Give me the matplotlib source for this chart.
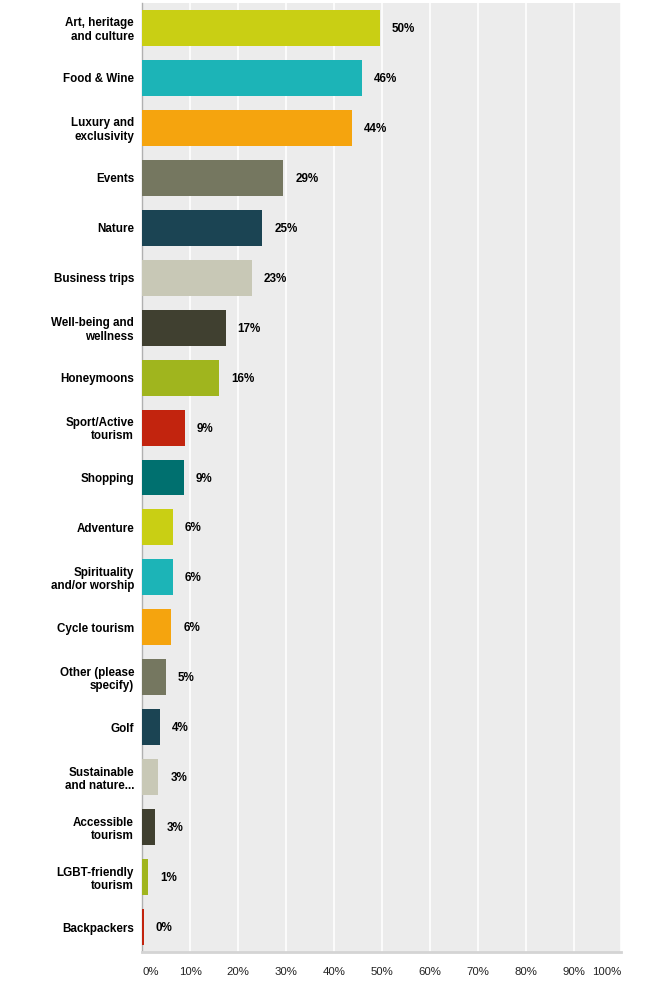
import matplotlib
matplotlib.use("Agg")
import matplotlib.pyplot as plt

categories = ["Art, heritage\nand culture", "Food & Wine", "Luxury and\nexclusivity", "Events",
              "Nature", "Business trips", "Well-being and\nwellness", "Honeymoons",
              "Sport/Active\ntourism", "Shopping", "Adventure", "Spirituality\nand/or worship",
              "Cycle tourism", "Other (please\nspecify)", "Golf", "Sustainable\nand nature...",
              "Accessible\ntourism", "LGBT-friendly\ntourism", "Backpackers"]
values = [49.6, 45.8, 43.7, 29.4, 25.0, 22.9, 17.4, 16.0, 8.9, 8.6, 6.4, 6.3, 6.0, 4.9,
          3.7, 3.3, 2.6, 1.2, 0.3]
palette = ["#c9cf14", "#1cb4b7", "#f5a40e", "#757760", "#1b4453", "#c8c8b6", "#404030",
           "#a0b51e", "#c2240e", "#00706f"]
xticks = [0, 10, 20, 30, 40, 50, 60, 70, 80, 90, 100]
xtick_labels = ["0%", "10%", "20%", "30%", "40%", "50%", "60%", "70%", "80%", "90%", "100%"]

plt.rcParams['font.family'] = ['Liberation Sans', 'DejaVu Sans']

fig = plt.figure(figsize=(6.5, 9.94), dpi=100)
ax = fig.add_axes([142.4/650, 42/994, 479/650, 949/994])
ax.set_facecolor("#ececec")

n = len(categories)
ypos = list(range(n))
colors = [palette[i % len(palette)] for i in range(n)]
ax.barh(ypos, values, height=0.72, color=colors, zorder=3)
ax.set_ylim(n - 0.5, -0.5)
ax.set_xlim(0, 100)

for y, v in zip(ypos, values):
    ax.annotate(f"{round(v)}%", (v, y), xytext=(12, -1), textcoords="offset pixels",
                ha="left", va="center", fontsize=8.4, fontweight="bold", color="#000000")

ax.set_yticks(ypos)
ax.set_yticklabels(categories, fontsize=8.4, fontweight="bold", color="#000000", linespacing=1.15)
ax.tick_params(axis="y", length=0, pad=6)

ax.set_xticks(xticks)
ax.set_xticklabels(xtick_labels, fontsize=8.2, color="#222222")
ax.tick_params(axis="x", length=0, pad=11)
labels = ax.get_xticklabels()
labels[0].set_ha("left")
labels[-1].set_ha("right")

ax.grid(axis="x", color="white", linewidth=1.2, zorder=1)
ax.grid(axis="y", visible=False)

for s in ["top", "right"]:
    ax.spines[s].set_visible(False)
ax.spines["left"].set_color("#b0b0b0")
ax.spines["left"].set_linewidth(1.0)
ax.spines["bottom"].set_color("#d4d4d4")
ax.spines["bottom"].set_linewidth(2.0)
ax.set_axisbelow(True)

fig.savefig("out.png", dpi=100)
